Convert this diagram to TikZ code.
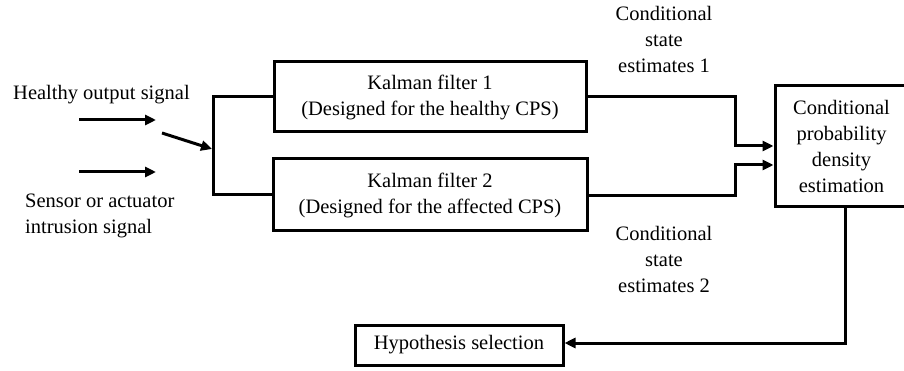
\documentclass[tikz,border=0pt]{standalone}
\usepackage{fontspec}
\setmainfont{Liberation Serif}
\usetikzlibrary{arrows.meta}
\begin{document}
\begin{tikzpicture}[x=1pt,y=-1pt,
  font=\fontsize{20.5}{26}\selectfont,
  box/.style={draw, line width=3pt, align=center, inner sep=0pt},
  lbl/.style={align=center, inner sep=0pt},
  conn/.style={line width=3pt},
  arr/.style={line width=3pt, -{Triangle[length=11pt,width=10pt]}}]
\useasboundingbox (0,0) rectangle (904,371);
\clip (0,0) rectangle (904,371);
% boxes
\node[box, minimum width=312pt, minimum height=70pt] (kf1) at (430,97)
  {Kalman filter 1\\(Designed for the healthy CPS)};
\node[box, minimum width=314pt, minimum height=72pt] (kf2) at (430,195)
  {Kalman filter 2\\(Designed for the affected CPS)};
\node[box, minimum width=133pt, minimum height=121pt] (cpd) at (841.5,146.5)
  {Conditional\\probability\\density\\estimation};
\node[box, minimum width=208pt, minimum height=40pt] (hyp) at (459,345)
  {Hypothesis selection};
% labels
\node[lbl, anchor=west] (hl) at (13,95) {Healthy output signal};
\node[lbl, anchor=west, align=left] (sl) at (25,216) {Sensor or actuator\\intrusion signal};
\node[lbl] (ce1) at (664,39) {Conditional\\state\\estimates 1};
\node[lbl] (ce2) at (664,259) {Conditional\\state\\estimates 2};
% input arrows
\coordinate (a1s) at (79,120);
\coordinate (a1e) at (156,120);
\coordinate (a2s) at (79,172);
\coordinate (a2e) at (156,172);
\coordinate (ds) at (162,133);
\coordinate (de) at (212,149);
\draw[arr] (a1s) -- (a1e);
\draw[arr] (a2s) -- (a2e);
\draw[arr] (ds) -- (de);
% switch junction
\coordinate (jt) at (213,97);
\coordinate (jb) at (213,195);
\draw[conn] (kf1.west) -- (jt) -- (jb) -- (kf2.west);
% outputs
\coordinate (b1) at (735,97);
\coordinate (b2) at (735,196);
\draw[arr] (kf1.east) -- (b1) |- ([yshift=0.5pt]cpd.west);
\draw[arr] (kf2.east |- b2) -- (b2) |- ([yshift=-18.5pt]cpd.west);
\draw[arr] ([xshift=3.5pt]cpd.south) |- ([yshift=2pt]hyp.east);
\end{tikzpicture}
\end{document}
